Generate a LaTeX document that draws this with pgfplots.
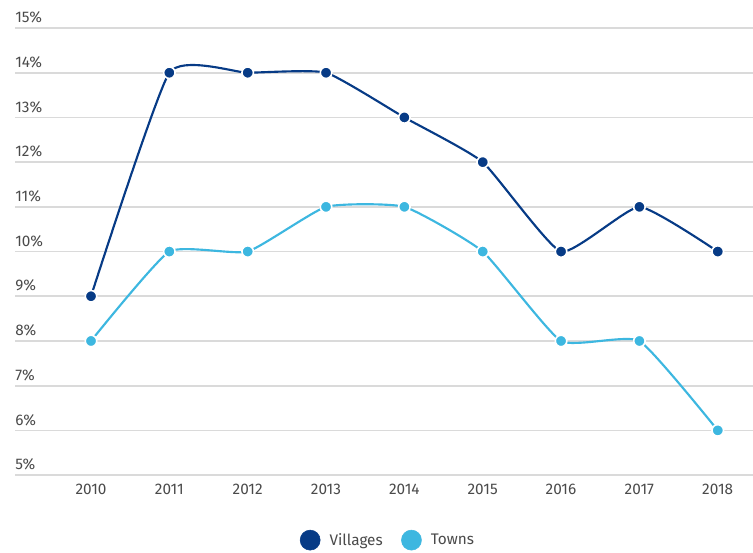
\documentclass[border=0pt]{standalone}
\usepackage{fontspec}
\setmainfont{Fira Sans}
\usepackage{pgfplots}
\pgfplotsset{compat=1.18}

\definecolor{villages}{HTML}{073B86}
\definecolor{towns}{HTML}{3DB7E0}
\definecolor{gridc}{HTML}{DADADA}
\definecolor{txt}{HTML}{4A4A4A}

\begin{document}
\begin{tikzpicture}
\begin{axis}[
    scale only axis,
    width=553pt, height=335pt,
    xmin=2009.03, xmax=2018.45,
    ymin=5, ymax=15,
    xtick={2010,...,2018},
    ytick={5,...,15},
    /pgf/number format/assume math mode=true,
    xticklabel={\pgfmathprintnumber[1000 sep={}]{\tick}},
    yticklabel={\pgfmathprintnumber{\tick}\%},
    tick label style={font=\fontsize{11.5}{13}\selectfont, text=txt},
    yticklabel style={anchor=south west, xshift=0pt, yshift=3.4pt, inner sep=0pt},
    xticklabel style={yshift=-3pt},
    axis line style={draw=none},
    major tick length=0pt,
    ymajorgrids,
    grid style={gridc, line width=1.3pt},
    legend style={at={(0.506,-0.1455)}, anchor=center, draw=none,
        font=\fontsize{11.5}{13}\selectfont, text=txt,
        /tikz/every odd column/.append style={column sep=5pt},
        /tikz/every even column/.append style={column sep=12pt}},
    legend columns=2,
    legend cell align=left,
]
\addplot[villages, line width=1.6pt, smooth, tension=0.28,
    mark=*, mark size=4.3pt, mark options={fill=villages, draw=white, line width=1.2pt}, forget plot]
coordinates {(2010,9) (2011,14) (2012,14) (2013,14) (2014,13) (2015,12) (2016,10) (2017,11) (2018,10)};
\addplot[towns, line width=1.6pt, smooth, tension=0.28,
    mark=*, mark size=4.3pt, mark options={fill=towns, draw=white, line width=1.2pt}, forget plot]
coordinates {(2010,8) (2011,10) (2012,10) (2013,11) (2014,11) (2015,10) (2016,8) (2017,8) (2018,6)};
\addlegendimage{only marks, mark=*, mark size=7.5pt, villages}
\addlegendentry{Villages}
\addlegendimage{only marks, mark=*, mark size=7.5pt, towns}
\addlegendentry{Towns}
\end{axis}
\pgfresetboundingbox
\path ([shift={(-11.25pt,-57.75pt)}]current axis.south west) rectangle ([shift={(0pt,21pt)}]current axis.north east);
\end{tikzpicture}
\end{document}
